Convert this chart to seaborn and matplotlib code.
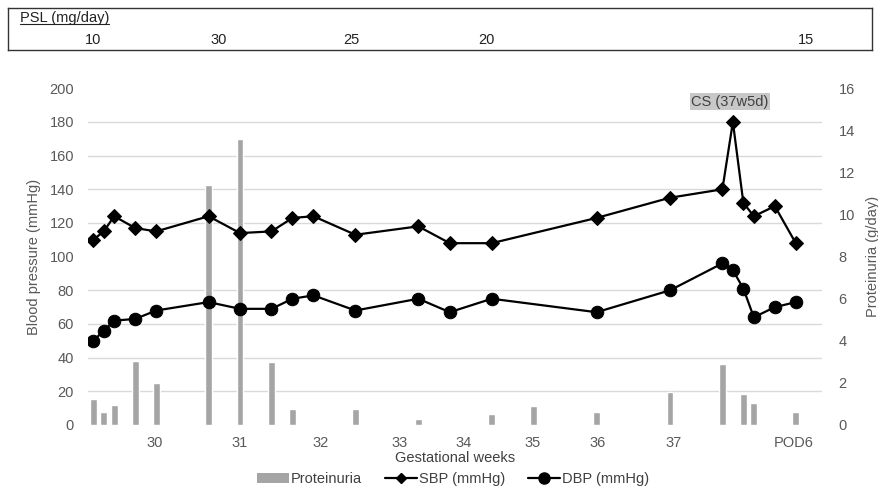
import numpy as np
import pandas as pd
import seaborn as sns
import matplotlib.pyplot as plt
from matplotlib.lines import Line2D
from matplotlib.patches import Patch
from matplotlib.ticker import MultipleLocator
from matplotlib.transforms import blended_transform_factory, IdentityTransform

# -- data (x = day index along the gestational axis) -- #
bp_days = [0, 1, 2, 4, 6, 11, 14, 17, 19, 21, 25, 31, 34, 38, 48, 55, 60, 61, 62, 63, 65, 67]
sbp = [110, 115, 124, 117, 115, 124, 114, 115, 123, 124, 113, 118, 108, 108, 123, 135, 140, 180, 132, 124, 130, 108]
dbp = [50, 56, 62, 63, 68, 73, 69, 69, 75, 77, 68, 75, 67, 75, 67, 80, 96, 92, 81, 64, 70, 73]

prot_days = [0, 1, 2, 4, 6, 11, 14, 17, 19, 25, 31, 38, 42, 48, 55, 60, 62, 63, 67]
proteinuria = [1.22, 0.63, 0.95, 3.04, 2.01, 11.4, 13.6, 2.98, 0.75, 0.75, 0.27, 0.51, 0.92, 0.6, 1.58, 2.88, 1.47, 1.03, 0.6]

week_pos = [5.9, 14, 21.7, 29.2, 35.3, 41.9, 48.1, 55.3, 66.8]
week_labels = ['30', '31', '32', '33', '34', '35', '36', '37', 'POD6']

psl_pos = [0, 12, 24.6, 37.5, 68]
psl_doses = ['10', '30', '25', '20', '15']

cs_day, cs_y, cs_text = 60.7, 192, 'CS (37w5d)'

sns.set_theme(style='white')
plt.rcParams['font.family'] = ['Liberation Sans', 'DejaVu Sans']
txtcol = '#595959'
fs = 10.5

fig = plt.figure(figsize=(8.79, 4.88), dpi=100)
ax = fig.add_axes([88/879, 1-425/488, 734/879, 336.7/488])
ax2 = ax.twinx()

# -- proteinuria bars on the right axis, drawn behind the BP lines -- #
sns.barplot(x=prot_days, y=proteinuria, native_scale=True, width=0.65, color='#a5a5a5',
            saturation=1, errorbar=None, ax=ax2)
ax2.set_ylim(0, 16)
ax2.set_yticks(np.arange(0, 17, 2))
ax2.yaxis.set_minor_locator(MultipleLocator(1.6))
ax2.grid(which='minor', axis='y', color='#d9d9d9', lw=1)
ax2.grid(which='major', visible=False)
ax2.set_axisbelow(True)
ax2.set_ylabel('Proteinuria (g/day)', color=txtcol, fontsize=fs, labelpad=8)

sns.lineplot(x=bp_days, y=sbp, ax=ax, color='black', marker='D', markersize=7,
             markeredgecolor='black', linewidth=1.6)
sns.lineplot(x=bp_days, y=dbp, ax=ax, color='black', marker='o', markersize=9,
             markeredgecolor='black', linewidth=1.6)
ax.set_zorder(ax2.get_zorder() + 1)
ax.patch.set_visible(False)
ax.set_ylim(0, 200)
ax.set_yticks(np.arange(0, 201, 20))
ax.set_xlim(-0.5, 69.5)
ax.set_xticks(week_pos)
ax.set_xticklabels(week_labels)
ax.set_ylabel('Blood pressure (mmHg)', color=txtcol, fontsize=fs, labelpad=6)
ax.set_xlabel('Gestational weeks', color='#404040', fontsize=fs, labelpad=1)

for a in (ax, ax2):
    for s in a.spines.values():
        s.set_visible(False)
    a.tick_params(which='both', length=0, labelsize=fs, labelcolor=txtcol)
ax.tick_params(axis='x', pad=8)
ax.tick_params(axis='y', pad=10)
ax2.tick_params(axis='y', pad=12)

ax.text(cs_day, cs_y, cs_text, ha='center', va='center', fontsize=fs, color='#404040',
        bbox=dict(facecolor='#c8c8c8', edgecolor='none', pad=1))

# -- PSL box on top -- #
top = fig.add_axes([8/879, 1-50/488, 864/879, 42/488])
top.set_xticks([])
top.set_yticks([])
for s in top.spines.values():
    s.set_color('#333333')
    s.set_linewidth(1)
psl_title = top.text(0.014, 0.77, 'PSL (mg/day)', transform=top.transAxes, ha='left',
                     va='center', fontsize=fs, color='#222222')
trans = blended_transform_factory(ax.transData, top.transAxes)
for p, d in zip(psl_pos, psl_doses):
    top.text(p, 0.25, d, transform=trans, ha='center', va='center', fontsize=fs, color='#222222')

# -- legend -- #
handles = [Patch(facecolor='#a5a5a5', edgecolor='none'),
           Line2D([], [], color='black', marker='D', markersize=5, lw=1.6),
           Line2D([], [], color='black', marker='o', markersize=8, lw=1.6)]
fig.legend(handles, ['Proteinuria', 'SBP (mmHg)', 'DBP (mmHg)'], loc='center',
           bbox_to_anchor=(453/879, 1-479/488), ncol=3, frameon=False, fontsize=fs,
           handlelength=2.2, handletextpad=0.1, columnspacing=1.6, labelcolor='#404040')

# underline the PSL title
fig.canvas.draw()
bb = psl_title.get_window_extent()
fig.add_artist(Line2D([bb.x0, bb.x1], [bb.y0 + 1, bb.y0 + 1], transform=IdentityTransform(),
                      color='#222222', lw=0.8))

fig.savefig('out.png', dpi=100)
